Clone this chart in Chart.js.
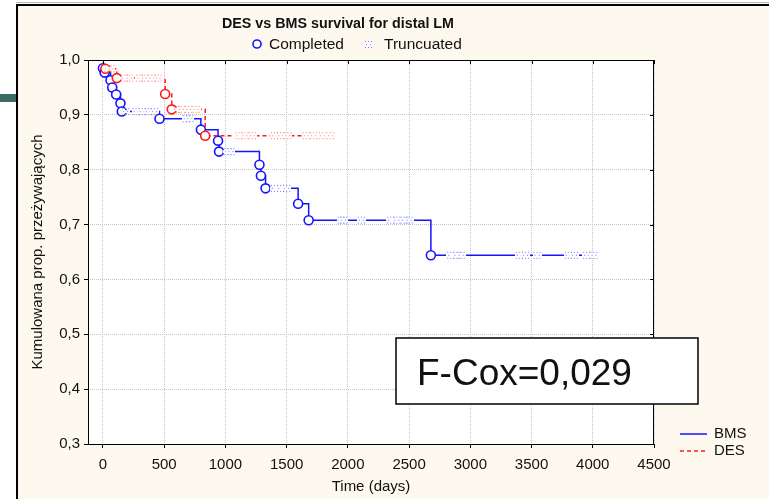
<!DOCTYPE html>
<html>
<head>
<meta charset="utf-8">
<script src="https://cdn.jsdelivr.net/npm/chart.js@4.4.1/dist/chart.umd.min.js"></script>
<style>
  html, body { margin: 0; padding: 0; background: #fff; }
  canvas { display: block; }
</style>
</head>
<body>
<canvas id="km" width="769" height="499"></canvas>
<script>
// axis ticks
const xTicks = [0, 500, 1000, 1500, 2000, 2500, 3000, 3500, 4000, 4500];
const yTicks = [0.3, 0.4, 0.5, 0.6, 0.7, 0.8, 0.9, 1.0];

// BMS: time (days), cumulative survival, censored flag (1 = truncated)
const bmsTime = [0, 14, 62, 76, 108, 143, 154, 185, 270, 320, 370, 420, 462, 680, 710, 800, 940, 948, 1020, 1045,
  1278, 1290, 1328, 1400, 1450, 1500, 1594, 1680, 1945, 1965, 2110, 2350, 2400, 2460, 2500, 2678,
  2840, 2890, 2925, 3400, 3450, 3545, 3800, 3850, 3950, 4010];
const bmsSurv = [0.985, 0.977, 0.963, 0.950, 0.937, 0.921, 0.906, 0.906, 0.906, 0.906, 0.906, 0.906, 0.893, 0.893, 0.893, 0.873, 0.853, 0.833, 0.833, 0.833,
  0.809, 0.789, 0.766, 0.766, 0.766, 0.766, 0.738, 0.708, 0.708, 0.708, 0.708, 0.708, 0.708, 0.708, 0.708, 0.644,
  0.644, 0.644, 0.644, 0.644, 0.644, 0.644, 0.644, 0.644, 0.644, 0.644];
const bmsCens = [0, 0, 0, 0, 0, 0, 0, 1, 1, 1, 1, 1, 0, 1, 1, 0, 0, 0, 1, 1,
  0, 0, 0, 1, 1, 1, 0, 0, 1, 1, 1, 1, 1, 1, 1, 0,
  1, 1, 1, 1, 1, 1, 1, 1, 1, 1];

// DES
const desTime = [20, 40, 65, 113, 175, 215, 300, 340, 400, 450, 508, 562, 600, 640, 700, 760, 835,
  1110, 1160, 1220, 1400, 1450, 1510, 1660, 1720, 1790, 1860];
const desSurv = [0.984, 0.984, 0.984, 0.967, 0.967, 0.967, 0.967, 0.967, 0.967, 0.967, 0.938, 0.910, 0.910, 0.910, 0.910, 0.910, 0.862,
  0.862, 0.862, 0.862, 0.862, 0.862, 0.862, 0.862, 0.862, 0.862, 0.862];
const desCens = [0, 1, 1, 0, 1, 1, 1, 1, 1, 1, 0, 0, 1, 1, 1, 1, 0,
  1, 1, 1, 1, 1, 1, 1, 1, 1, 1];

const FONT = '"Liberation Sans", Arial, sans-serif';
const BLUE = '#1414ff';
const RED = '#ff1a1a';

// small dotted mark used by Statistica for truncated cases
function censorMark(color) {
  const c = document.createElement('canvas');
  c.width = 9; c.height = 9;
  const g = c.getContext('2d');
  g.fillStyle = '#fff';
  g.fillRect(0, 3, 9, 3);
  g.fillStyle = color;
  [[1, 1], [4, 1], [7, 1], [2, 4], [6, 4], [1, 7], [4, 7], [7, 7]].forEach(([x, y]) => g.fillRect(x, y, 1, 1));
  return c;
}
const bmsMark = censorMark('#7a7aff');
const desMark = censorMark('#ff7a7a');

function kmDataset(label, times, surv, cens, color, dash, mark) {
  return {
    label,
    data: times.map((t, i) => ({ x: t, y: surv[i] })),
    borderColor: color,
    borderWidth: 1.5,
    borderDash: dash,
    stepped: 'before',
    fill: false,
    pointStyle: cens.map(c => c ? mark : 'circle'),
    pointRadius: 4.5,
    pointBorderWidth: 1.6,
    pointBorderColor: color,
    pointBackgroundColor: '#fff'
  };
}

const frame = {
  id: 'frame',
  beforeDraw(chart) {
    const { ctx, chartArea: a } = chart;
    ctx.save();
    ctx.fillStyle = '#fff';
    ctx.fillRect(0, 0, chart.width, chart.height);
    ctx.fillStyle = '#3c6b68';
    ctx.fillRect(0, 94, 17, 8);
    ctx.fillStyle = '#fef9ee';
    ctx.fillRect(17, 5, chart.width - 17, chart.height - 5);
    ctx.fillStyle = '#b8b8b8';
    ctx.fillRect(16, 2, chart.width - 16, 1);
    ctx.fillStyle = '#000';
    ctx.fillRect(16, 4, chart.width - 16, 2);
    ctx.fillRect(16, 4, 2, chart.height - 4);
    ctx.fillStyle = '#fff';
    ctx.fillRect(a.left, a.top, a.right - a.left, a.bottom - a.top);
    ctx.restore();
  },
  afterDatasetsDraw(chart) {
    const { ctx, chartArea: a, scales } = chart;
    ctx.save();
    ctx.strokeStyle = '#000';
    ctx.lineWidth = 1;
    ctx.strokeRect(a.left + 0.5, a.top + 0.5, a.right - a.left - 1, a.bottom - a.top);
    ctx.beginPath();
    xTicks.forEach(v => {
      const x = Math.round(scales.x.getPixelForValue(v)) + 0.5;
      ctx.moveTo(x, a.top); ctx.lineTo(x, a.top + 4);
    });
    yTicks.forEach(v => {
      const y = Math.round(scales.y.getPixelForValue(v)) + 0.5;
      ctx.moveTo(a.right, y); ctx.lineTo(a.right - 4, y);
    });
    ctx.stroke();

    // F-Cox box
    ctx.fillStyle = '#fff';
    ctx.fillRect(396, 338, 302, 66);
    ctx.lineWidth = 1.5;
    ctx.strokeRect(396, 338, 302, 66);
    ctx.fillStyle = '#111';
    ctx.font = '37px ' + FONT;
    ctx.textBaseline = 'alphabetic';
    ctx.textAlign = 'left';
    ctx.fillText('F-Cox=0,029', 417, 385);

    // title
    ctx.font = 'bold 14.3px ' + FONT;
    ctx.textAlign = 'center';
    ctx.textBaseline = 'middle';
    ctx.fillText('DES vs BMS survival for distal LM', 338, 24);

    // marker legend
    ctx.font = '15.5px ' + FONT;
    ctx.textAlign = 'left';
    ctx.beginPath();
    ctx.arc(257, 44, 4, 0, Math.PI * 2);
    ctx.fillStyle = '#fff';
    ctx.fill();
    ctx.strokeStyle = BLUE;
    ctx.lineWidth = 1.6;
    ctx.stroke();
    ctx.fillStyle = '#111';
    ctx.fillText('Completed', 269, 45);
    ctx.drawImage(censorMark('#8080ff'), 364, 40);
    ctx.fillText('Truncuated', 384, 45);

    // series legend
    ctx.font = '15px ' + FONT;
    ctx.lineWidth = 1.5;
    ctx.strokeStyle = BLUE;
    ctx.beginPath(); ctx.moveTo(680, 434); ctx.lineTo(707, 434); ctx.stroke();
    ctx.strokeStyle = RED;
    ctx.setLineDash([4, 3]);
    ctx.beginPath(); ctx.moveTo(680, 451); ctx.lineTo(707, 451); ctx.stroke();
    ctx.setLineDash([]);
    ctx.fillStyle = '#111';
    ctx.fillText('BMS', 714, 434);
    ctx.fillText('DES', 714, 451);
    ctx.restore();
  }
};

const tickFont = { family: FONT, size: 15 };

new Chart(document.getElementById('km'), {
  type: 'line',
  data: {
    datasets: [
      kmDataset('DES', desTime, desSurv, desCens, RED, [4, 3], desMark),
      kmDataset('BMS', bmsTime, bmsSurv, bmsCens, BLUE, [], bmsMark)
    ]
  },
  options: {
    responsive: false,
    animation: false,
    layout: { padding: { left: 18, right: 115, top: 60, bottom: 0 } },
    plugins: { legend: { display: false }, tooltip: { enabled: false }, title: { display: false } },
    scales: {
      x: {
        type: 'linear',
        min: -122,
        max: 4500,
        afterBuildTicks: s => { s.ticks = xTicks.map(v => ({ value: v })); },
        afterFit: s => { s.height = 55; },
        ticks: { font: tickFont, color: '#111', padding: 8, autoSkip: false, maxRotation: 0, callback: v => String(v) },
        grid: { color: '#c4c4c4', lineWidth: 1, tickColor: '#000', tickLength: 4, tickBorderDash: [] },
        border: { display: false, dash: [1, 1] },
        title: { display: true, text: 'Time (days)', color: '#111', font: tickFont, padding: { top: 0, bottom: 3 } }
      },
      y: {
        min: 0.3,
        max: 1.0,
        afterBuildTicks: s => { s.ticks = yTicks.map(v => ({ value: v })); },
        afterFit: s => { s.width = 70; },
        ticks: { font: tickFont, color: '#111', padding: 4, callback: v => v.toFixed(1).replace('.', ',') },
        grid: { color: '#c4c4c4', lineWidth: 1, tickColor: '#000', tickLength: 4, tickBorderDash: [] },
        border: { display: false, dash: [1, 1] },
        title: { display: true, text: 'Kumulowana prop. przeżywających', color: '#111', font: tickFont, padding: { top: 11, bottom: 0 } }
      }
    }
  },
  plugins: [frame]
});
</script>
</body>
</html>
